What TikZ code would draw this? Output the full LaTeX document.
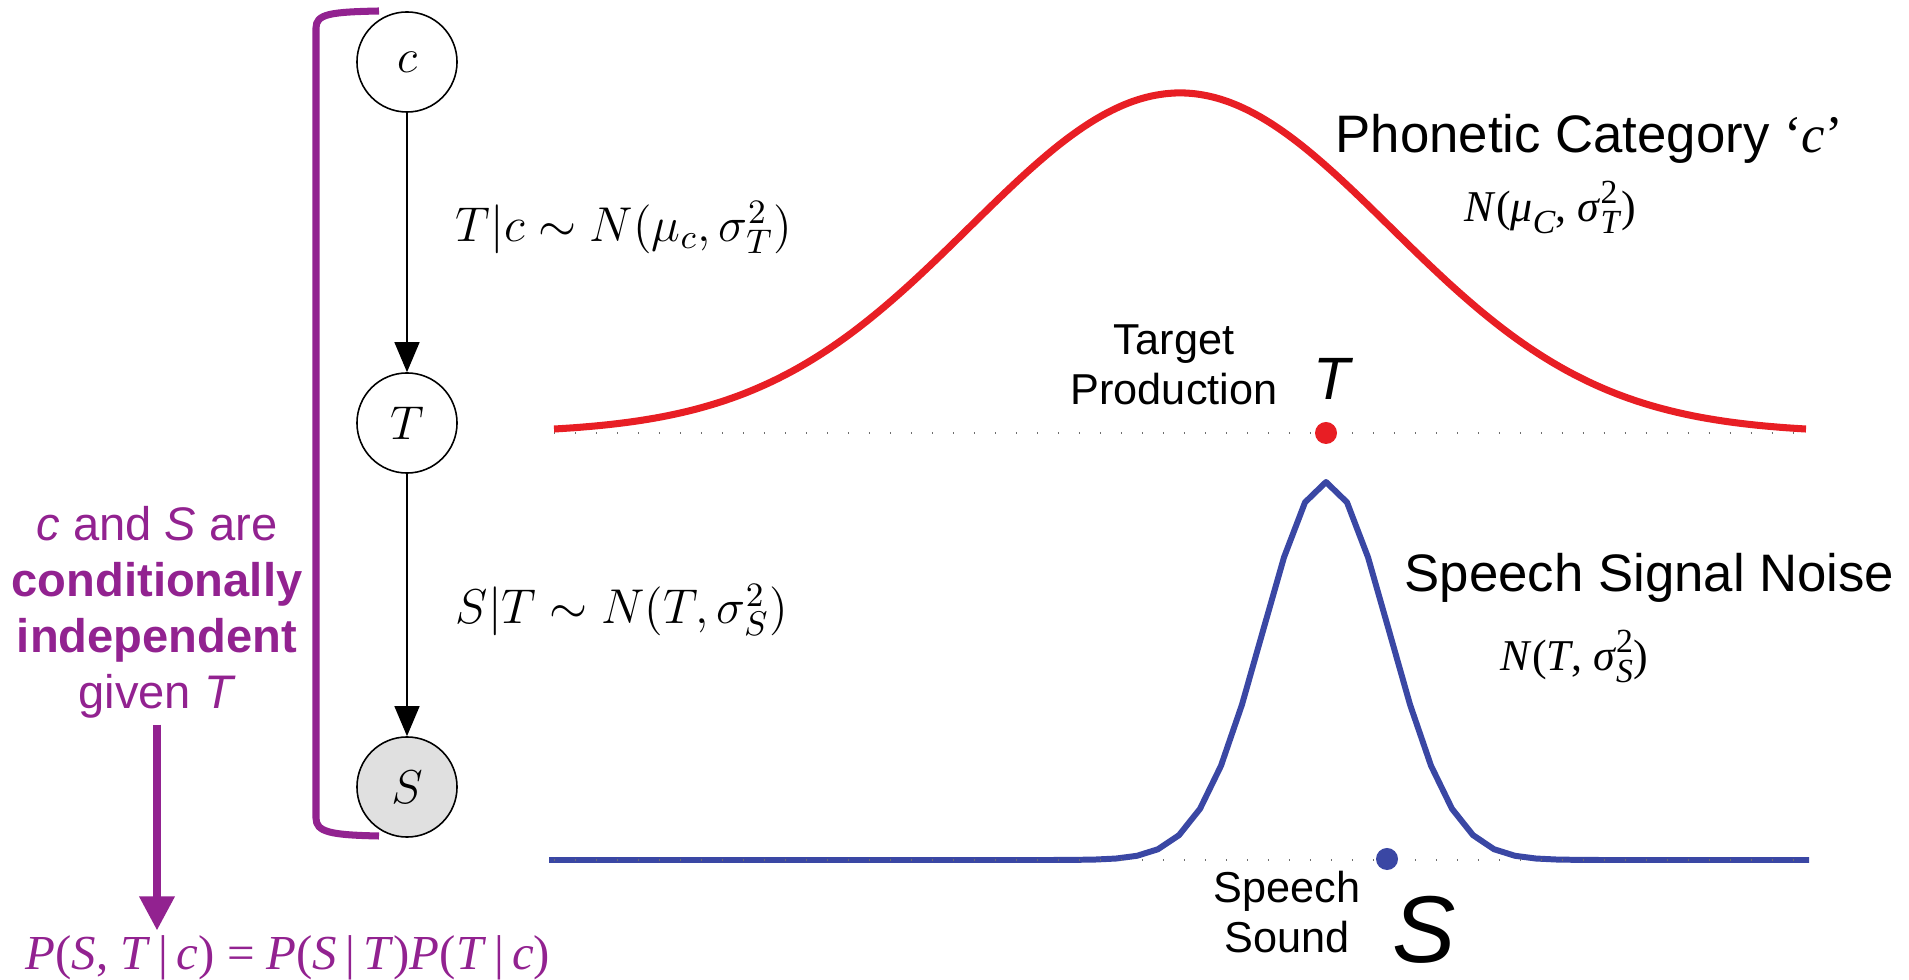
\RequirePackage{fix-cm}
\documentclass[tikz,border=0pt]{standalone}
\usepackage{fontspec}
\setmainfont{Liberation Sans}
\newfontfamily\tnrfont{Liberation Serif}
\usetikzlibrary{arrows.meta,positioning}

\definecolor{catred}{RGB}{232,30,36}
\definecolor{noiseblue}{RGB}{58,71,164}
\definecolor{indpurple}{RGB}{146,34,144}
\definecolor{obsgray}{RGB}{224,224,224}
\definecolor{tickgray}{RGB}{110,110,110}

\newcommand{\subsz}{\fontsize{9.6}{10}\selectfont}
\newcommand{\lowsub}[1]{\raisebox{-0.27em}{\subsz\textit{#1}}}
\newcommand{\sigsq}[1]{\textit{σ}\rlap{\raisebox{0.42em}{\subsz 2}}\lowsub{#1}}

\begin{document}
\begin{tikzpicture}[x=0.01cm,y=-0.01cm,>={Triangle[length=3mm,width=2.5mm]},
  var/.style={circle,draw,line width=0.45pt,minimum size=1cm,inner sep=0pt,font=\fontsize{13.5}{16}\selectfont},
  obs/.style={var,fill=obsgray},
  cpd/.style={inner sep=0pt,font=\fontsize{13.9}{16}\selectfont},
  ptext/.style={text=indpurple,inner sep=0pt,font=\fontsize{13.4}{15.9}\selectfont},
  heading/.style={inner sep=0pt,font=\fontsize{15}{18}\selectfont},
  caption/.style={inner sep=0pt,align=center,font=\fontsize{12.3}{14.2}\selectfont},
  dist/.style={inner sep=0pt,font=\fontsize{12.5}{15}\selectfont\tnrfont},
  bigvar/.style={inner sep=0pt,anchor=base west},
  dotmark/.style={circle,inner sep=0pt,minimum size=0.22cm},
  axisdots/.style={tickgray,line width=0.6pt,dash pattern=on 0.4pt off 5.57pt},
  brace/.style={indpurple,line width=2pt}]
  \useasboundingbox (0,0) rectangle (1909,980);

  % graphical model
  \node[var] (c) at (407,62) {$c$};
  \node[var] (T) at (407,423) {$T$};
  \node[obs] (S) at (407,787) {$S$};
  \draw[->,line width=0.4pt] (c) -- node[cpd,right=0.48cm,yshift=0.15cm] {$T|c\sim N(\mu_c,\sigma_T^2)$} (T);
  \draw[->,line width=0.4pt] (T) -- node[cpd,right=0.48cm,yshift=-0.05cm] {$S|T\sim N(T,\sigma_S^2)$} (S);

  % bracket and conditional independence
  \draw[brace] (379,11) .. controls (330,12) and (316,14) .. (316,28) -- (316,818) .. controls (316,832) and (330,835) .. (379,836);
  \node[ptext,align=center] (cond) at (157,612) {\textit{c} and \textit{S} are\\\textbf{conditionally}\\\textbf{independent}\\given \textit{T}};
  \node[ptext,font=\fontsize{13.9}{16}\selectfont\tnrfont,anchor=base west,inner sep=0.05cm] (joint) at (20,970)
    {\textit{P}(\textit{S}, \textit{T}\,|\,\textit{c}) = \textit{P}(\textit{S}\,|\,\textit{T})\textit{P}(\textit{T}\,|\,\textit{c})};
  \draw[brace,-{Triangle[length=0.34cm,width=0.34cm]},shorten <=0.06cm] (cond.south) -- (cond.south |- joint.north);

  % phonetic category
  \draw[axisdots] (554,433) -- (1806,433);
  \draw[catred,line width=2pt,line join=round] plot[domain=554:1806,samples=120,smooth] (\x,{433-340*exp(-0.5*((\x-1180)/210)^2)});
  \node[dotmark,fill=catred] (tdot) at (1326,433) {};
  \node[heading,anchor=base west] (phon) at (1335,153) {Phonetic Category {\tnrfont‘\textit{c}’}};
  \node[dist,anchor=base west] (catdist) at (1464,222) {\textit{N}(\textit{μ}\lowsub{C}, \sigsq{T})};
  \node[caption] (target) at (1174,365) {Target\\Production};
  \node[bigvar,font=\fontsize{17}{20}\selectfont\itshape] (tlab) at (1313,400) {T};

  % speech signal noise
  \draw[noiseblue,line width=1.7pt,line join=round] plot[domain=549:1809,samples=61] (\x,{860-378*exp(-0.5*((\x-1326)/63)^2)});
  \draw[axisdots] (554,860) -- (1806,860);
  \node[dotmark,fill=noiseblue] (sdot) at (1387,859) {};
  \node[heading,anchor=base west] (noise) at (1404,592) {Speech Signal Noise};
  \node[dist,anchor=base west] (noisedist) at (1500,671) {\textit{N}(\textit{T}, \sigsq{S})};
  \node[caption] (sound) at (1287,912) {Speech\\Sound};
  \node[bigvar,font=\fontsize{27}{30}\selectfont\itshape] (slab) at (1392,962) {S};
\end{tikzpicture}
\end{document}
